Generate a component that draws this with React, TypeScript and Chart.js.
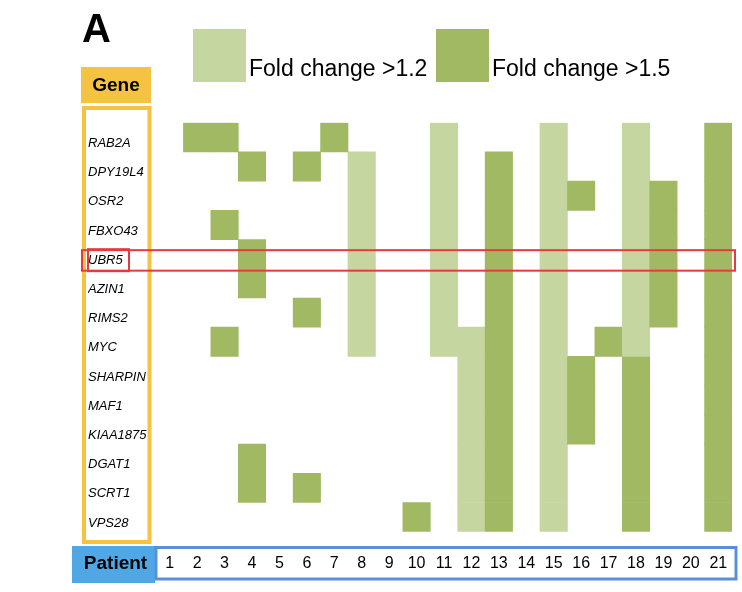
import React, { useEffect, useRef } from 'react';
import { Chart, registerables } from 'chart.js';

Chart.register(...registerables);

const genes = ['RAB2A', 'DPY19L4', 'OSR2', 'FBXO43', 'UBR5', 'AZIN1', 'RIMS2', 'MYC', 'SHARPIN', 'MAF1', 'KIAA1875', 'DGAT1', 'SCRT1', 'VPS28'];
const patients = ['1', '2', '3', '4', '5', '6', '7', '8', '9', '10', '11', '12', '13', '14', '15', '16', '17', '18', '19', '20', '21'];
const legendLabels = ['Fold change >1.2', 'Fold change >1.5'];

// 0 = no change, 1 = fold change > 1.2, 2 = fold change > 1.5 (patients 1..21)
const RAB2A = [0, 2, 2, 0, 0, 0, 2, 0, 0, 0, 1, 0, 0, 0, 1, 0, 0, 1, 0, 0, 2];
const DPY19L4 = [0, 0, 0, 2, 0, 2, 0, 1, 0, 0, 1, 0, 2, 0, 1, 0, 0, 1, 0, 0, 2];
const OSR2 = [0, 0, 0, 0, 0, 0, 0, 1, 0, 0, 1, 0, 2, 0, 1, 2, 0, 1, 2, 0, 2];
const FBXO43 = [0, 0, 2, 0, 0, 0, 0, 1, 0, 0, 1, 0, 2, 0, 1, 0, 0, 1, 2, 0, 2];
const UBR5 = [0, 0, 0, 2, 0, 0, 0, 1, 0, 0, 1, 0, 2, 0, 1, 0, 0, 1, 2, 0, 2];
const AZIN1 = [0, 0, 0, 2, 0, 0, 0, 1, 0, 0, 1, 0, 2, 0, 1, 0, 0, 1, 2, 0, 2];
const RIMS2 = [0, 0, 0, 0, 0, 2, 0, 1, 0, 0, 1, 0, 2, 0, 1, 0, 0, 1, 2, 0, 2];
const MYC = [0, 0, 2, 0, 0, 0, 0, 1, 0, 0, 1, 1, 2, 0, 1, 0, 2, 1, 0, 0, 2];
const SHARPIN = [0, 0, 0, 0, 0, 0, 0, 0, 0, 0, 0, 1, 2, 0, 1, 2, 0, 2, 0, 0, 2];
const MAF1 = [0, 0, 0, 0, 0, 0, 0, 0, 0, 0, 0, 1, 2, 0, 1, 2, 0, 2, 0, 0, 2];
const KIAA1875 = [0, 0, 0, 0, 0, 0, 0, 0, 0, 0, 0, 1, 2, 0, 1, 2, 0, 2, 0, 0, 2];
const DGAT1 = [0, 0, 0, 2, 0, 0, 0, 0, 0, 0, 0, 1, 2, 0, 1, 0, 0, 2, 0, 0, 2];
const SCRT1 = [0, 0, 0, 2, 0, 2, 0, 0, 0, 0, 0, 1, 2, 0, 1, 0, 0, 2, 0, 0, 2];
const VPS28 = [0, 0, 0, 0, 0, 0, 0, 0, 0, 2, 0, 1, 2, 0, 1, 0, 0, 2, 0, 0, 2];

const rows = [RAB2A, DPY19L4, OSR2, FBXO43, UBR5, AZIN1, RIMS2, MYC, SHARPIN, MAF1, KIAA1875, DGAT1, SCRT1, VPS28];
const highlightGene = 'UBR5';

const LIGHT = '#c5d6a0';
const DARK = '#a1b962';
const ORANGE = '#f5c242';
const BLUE_FILL = '#4fa7e5';
const BLUE_LINE = '#5a90d8';
const RED = '#e63a3c';
const FONT = '"Liberation Sans", Arial, sans-serif';
const LABEL_OFFSET = 6;

const overlayPlugin = {
  id: 'overlay',
  afterDraw(chart: any) {
    const ctx = chart.ctx as CanvasRenderingContext2D;
    const area = chart.chartArea;
    const y2 = chart.scales.y2;
    ctx.save();

    // Panel letter
    ctx.fillStyle = '#000';
    ctx.font = `bold 40px ${FONT}`;
    ctx.textAlign = 'left';
    ctx.textBaseline = 'alphabetic';
    ctx.fillText('A', 82, 42);

    // Legend
    const legendX = [193, 436];
    const colors = [LIGHT, DARK];
    ctx.font = `23px ${FONT}`;
    legendLabels.forEach((t, i) => {
      ctx.fillStyle = colors[i];
      ctx.fillRect(legendX[i], 29, 53, 53);
      ctx.fillStyle = '#000';
      ctx.fillText(t, legendX[i] + 56, 76);
    });

    // Gene header and box
    ctx.fillStyle = ORANGE;
    ctx.fillRect(81, 67, 70, 36);
    ctx.fillStyle = '#000';
    ctx.font = `bold 19px ${FONT}`;
    ctx.textAlign = 'center';
    ctx.textBaseline = 'middle';
    ctx.fillText('Gene', 116, 86);
    ctx.strokeStyle = ORANGE;
    ctx.lineWidth = 4;
    ctx.strokeRect(84, 108, 65.5, 434);

    // Patient header and box
    ctx.fillStyle = BLUE_FILL;
    ctx.fillRect(72, 546, 83, 37);
    ctx.strokeStyle = BLUE_LINE;
    ctx.lineWidth = 3;
    ctx.strokeRect(156, 547.5, 580, 31.5);
    ctx.fillStyle = '#000';
    ctx.font = `bold 19px ${FONT}`;
    ctx.fillText('Patient', 115.5, 564);

    // Highlight rectangles
    const hi = genes.indexOf(highlightGene);
    const cy = y2.getPixelForValue(hi) + LABEL_OFFSET;
    ctx.strokeStyle = RED;
    ctx.lineWidth = 2;
    ctx.strokeRect(82, cy - 10, area.right + 3 - 82, 20.5);
    ctx.strokeRect(88, cy - 11, 41, 22);

    ctx.restore();
  },
};

export default function App() {
  const ref = useRef<HTMLCanvasElement | null>(null);

  useEffect(() => {
    if (!ref.current) return;
    const chart = new Chart(ref.current, {
      type: 'bar',
      data: {
        labels: patients,
        datasets: rows.map((vals, r) => ({
          label: genes[r],
          data: vals.map((v) => (v ? [r, r + 1] : null)) as any,
          backgroundColor: vals.map((v) => (v === 2 ? DARK : LIGHT)),
          borderWidth: 0,
          grouped: false,
          barPercentage: 1,
          categoryPercentage: 1,
          yAxisID: 'y',
        })),
      },
      options: {
        responsive: false,
        animation: false,
        devicePixelRatio: 1,
        layout: { padding: { left: 88, top: 122.7, right: 10, bottom: 0 } },
        plugins: { legend: { display: false }, tooltip: { enabled: false } },
        scales: {
          x: {
            position: 'bottom',
            offset: true,
            grid: { display: false, drawTicks: false },
            border: { display: false },
            ticks: {
              color: '#000',
              font: { family: FONT, size: 16 },
              padding: 22,
              maxRotation: 0,
              autoSkip: false,
            },
            afterFit: (s: any) => {
              s.height = 60.3;
              s.paddingLeft = 0;
              s.paddingRight = 0;
            },
          },
          y: {
            type: 'linear',
            min: 0,
            max: genes.length,
            reverse: true,
            display: false,
          },
          y2: {
            type: 'category',
            labels: genes,
            offset: true,
            position: 'left',
            grid: { display: false, drawTicks: false },
            border: { display: false },
            ticks: {
              crossAlign: 'far',
              labelOffset: LABEL_OFFSET,
              color: '#000',
              font: { family: FONT, size: 13, style: 'italic' },
              autoSkip: false,
              padding: 0,
            },
            afterFit: (s: any) => {
              s.width = 68;
              s.paddingTop = 0;
              s.paddingBottom = 0;
            },
          },
        } as any,
      },
      plugins: [overlayPlugin],
    });
    return () => chart.destroy();
  }, []);

  return (
    <div style={{ position: 'fixed', left: 0, top: 0, width: 742, height: 592, background: '#fff' }}>
      <canvas ref={ref} width={742} height={592} style={{ display: 'block' }} />
    </div>
  );
}
